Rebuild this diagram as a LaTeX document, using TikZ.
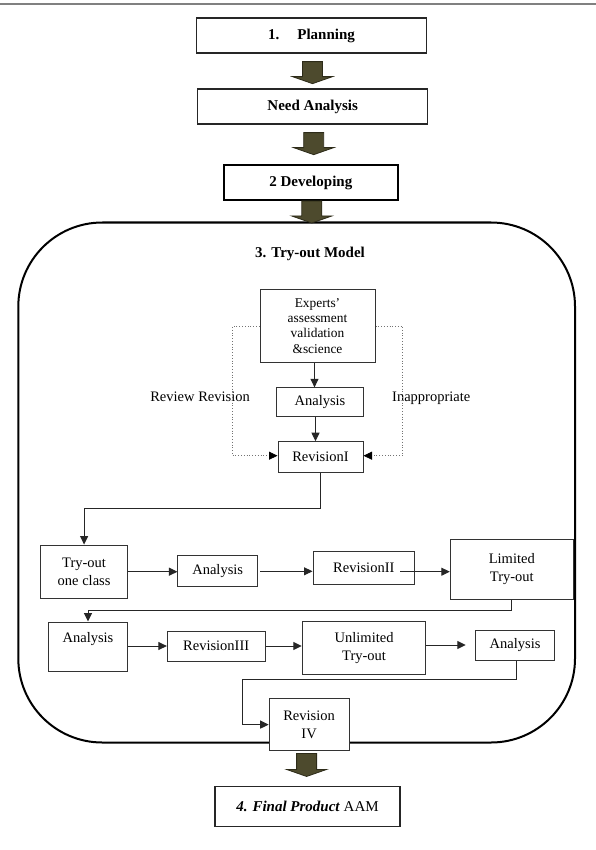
\documentclass[tikz,border=0pt]{standalone}
\usepackage{fontspec}
\setmainfont{Liberation Serif}
\usetikzlibrary{arrows.meta,calc}
\definecolor{olivefill}{RGB}{77,74,45}
\definecolor{oliveedge}{RGB}{45,43,25}
\newcommand\fatarrow[2]{\filldraw[fat] #1 ++(-10,0) -- ++(0,{#2-7}) -- ++(-10,0) -- ++(20,7) -- ++(20,-7) -- ++(-10,0) -- ++(0,{7-#2}) -- cycle;}
\begin{document}
\begin{tikzpicture}[x=1pt,y=-1pt,
  box/.style={draw=black!80, line width=1pt, fill=white, inner sep=0pt, align=center, font=\fontsize{14.5}{17.5}\selectfont},
  bigbox/.style={draw=black!85, line width=1.3pt, fill=white, inner sep=0pt, font=\bfseries\fontsize{15}{18}\selectfont},
  lbl/.style={inner sep=0pt, font=\fontsize{14.5}{17.5}\selectfont},
  arr/.style={draw=black!85, line width=1pt, -{Triangle[length=8.5pt,width=8pt]}},
  dotline/.style={draw=black!55, line width=0.8pt, dotted, -{Triangle[length=8.5pt,width=8pt,color=black]}},
  fat/.style={fill=olivefill, draw=oliveedge, line width=0.8pt}
]
\useasboundingbox (0,0) rectangle (596,850);
\fill[white] (0,0) rectangle (596,850);
\draw[black!50, line width=1.6pt] (0,4.3) -- (596,4.3);

% top sequence
\node[bigbox, minimum width=230, minimum height=35] (plan) at (311.5,35.5) {1.\hspace{18pt}Planning};
\node[bigbox, minimum width=230, minimum height=35] (need) at (312.7,106.5) {Need Analysis};
\node[bigbox, line width=2pt, draw=black, minimum width=174.5, minimum height=35] (dev) at (310.8,182.5) {2 Developing};

% try-out container
\node[draw=black, line width=2pt, rounded corners=84pt, minimum width=556.7, minimum height=520, inner sep=0pt] (model) at (296.65,482.5) {};
\node[inner sep=0pt, font=\bfseries\fontsize{15}{18}\selectfont] (title) at (310,254) {3. Try-out Model};

\fatarrow{($(plan.south)+(1,8)$)}{22}
\fatarrow{($(need.south)+(1,8)$)}{22}
\fatarrow{($(dev.south)+(1,0)$)}{22}

% upper part
\node[box, minimum width=115, minimum height=73.7, font=\fontsize{13.4}{15.2}\selectfont] (exp) at (317.5,326) {Experts’\\assessment\\validation\\\&science};
\node[box, minimum width=86.6, minimum height=28.3] (ana1) at (320,402) {Analysis};
\node[box, minimum width=85, minimum height=31] (rev1) at (320.5,457.2) {RevisionI};
\node[lbl, anchor=east] (rr) at (250,397) {Review Revision};
\node[lbl, anchor=west] (inap) at (392,398) {Inappropriate};

\draw[arr] ([xshift=-3pt]exp.south) -- ([xshift=-3pt]exp.south |- ana1.north);
\draw[arr] ([xshift=-4.5pt]ana1.south) -- ([xshift=-4.5pt]ana1.south |- rev1.north);
\draw[dotline] (exp.west) -- ++(-27,0) |- ([yshift=1.5pt]rev1.west);
\draw[dotline] (exp.east) -- ++(27,0) |- ([yshift=1.5pt]rev1.east);

% row 1
\node[box, minimum width=86.8, minimum height=53.3] (tryone) at (84.1,571.7) {Try-out\\one class};
\node[box, minimum width=79.5, minimum height=30.7] (ana2) at (217.7,571.3) {Analysis};
\node[box, minimum width=101.6, minimum height=33.3] (rev2) at (363.8,567.7) {RevisionII};
\node[box, minimum width=123, minimum height=59.7] (limited) at (511.8,569.2) {Limited\\Try-out};

\draw[arr] (rev1.south) -- ++(0,35.5) -| (tryone.north);
\draw[arr] (tryone.east) -- (tryone.east -| ana2.west);
\draw[arr] ([xshift=2.5pt]ana2.east) -- (ana2.east -| rev2.west);
\draw[arr] ([xshift=-15pt,yshift=-4pt]rev2.east) -- ([yshift=-4pt]rev2.east -| limited.west);

% row 2
\node[box, minimum width=79, minimum height=49, text height=10pt, text depth=18pt] (ana3) at (88,646.5) {Analysis};
\node[box, minimum width=97.7, minimum height=30] (rev3) at (216.2,646) {RevisionIII};
\node[box, minimum width=123.7, minimum height=52.6] (unlim) at (364.1,648) {Unlimited\\Try-out};
\node[box, minimum width=79.7, minimum height=30] (ana4) at (515.1,645) {Analysis};

\draw[arr] (limited.south) -- ++(0,11) -| (ana3.north);
\draw[arr] (rev3.west -| ana3.east) -- (rev3.west);
\draw[arr] (rev3.east) -- (rev3.east -| unlim.west);
\draw[arr, shorten >=9pt] (ana4.west -| unlim.east) -- (ana4.west);

% revision IV and final
\node[box, minimum width=79.8, minimum height=52.7] (rev4) at (309.1,724.6) {Revision\\IV};
\draw[arr] ([xshift=1pt]ana4.south) -- ++(0,19) -| ([xshift=-26.6pt]rev4.west) -- (rev4.west);

\fatarrow{($(rev4.south)+(-2.5,2)$)}{23}
\node[box, line width=1.5pt, draw=black!85, minimum width=185, minimum height=40, font=\fontsize{15}{18}\selectfont] (final) at (307.5,806.7) {\textbf{\textit{4. Final Product}} AAM};
\end{tikzpicture}
\end{document}
